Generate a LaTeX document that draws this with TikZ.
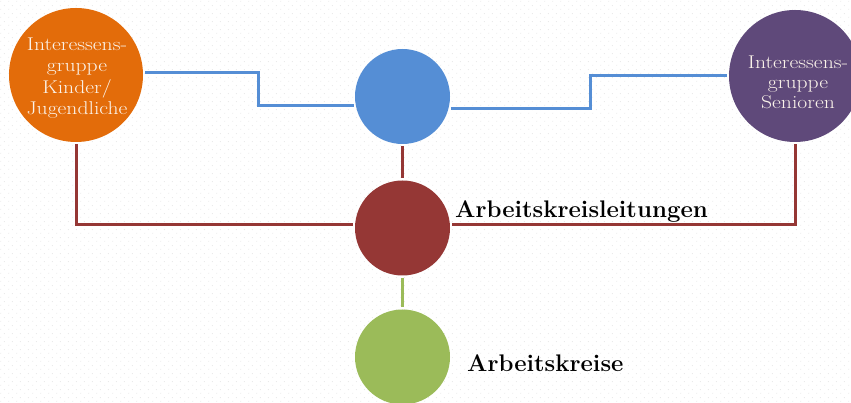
\documentclass[tikz,border=0pt]{standalone}
\usetikzlibrary{patterns.meta}
\definecolor{corange}{HTML}{E36C0A}
\definecolor{cblue}{HTML}{558ED5}
\definecolor{cpurple}{HTML}{5F497A}
\definecolor{cred}{HTML}{953735}
\definecolor{cgreen}{HTML}{9BBB59}
\definecolor{ctext}{HTML}{FBF3EA}
\tikzdeclarepattern{
  name=bgdots,
  type=uncolored,
  bounding box={(0pt,0pt) and (8pt,8pt)},
  tile size={(8pt,8pt)},
  code={\fill (2pt,2pt) circle (0.5pt); \fill (6pt,6pt) circle (0.5pt);}
}
\tikzset{
  bubble/.style={circle, inner sep=0pt, draw=none},
  bubbletext/.style={text=ctext, align=center, xscale=1.17, inner sep=0pt, font=\fontsize{18.5}{21.5}\selectfont},
  conn/.style={line width=3pt, shorten <=2pt, shorten >=2pt},
  lbl/.style={anchor=base west, inner sep=0pt, font=\fontsize{24}{28}\selectfont\bfseries}
}
\begin{document}
\begin{tikzpicture}[x=1pt,y=1pt]
\useasboundingbox (0,0) rectangle (851,403);
\clip (0,0) rectangle (851,403);
\fill[white] (0,0) rectangle (851,403);
\fill[pattern={bgdots}, pattern color=black!14] (0,0) rectangle (851,403);

\node[bubble, fill=corange, minimum size=134pt] (orange) at (76,328) {};
\node[bubbletext] (otext) at (77,325) {Interessens-\\gruppe\\Kinder/\\Jugendliche};
\node[bubble, fill=cblue, minimum size=95pt] (blue) at (402.5,306.5) {};
\node[bubble, fill=cpurple, minimum size=132pt] (purple) at (795,327) {};
\node[bubbletext, font=\fontsize{18.5}{20}\selectfont] (ptext) at (798,321) {Interessens-\\gruppe\\Senioren};
\node[bubble, fill=cred, minimum size=95pt] (red) at (402.5,175) {};
\node[bubble, fill=cgreen, minimum size=95pt] (green) at (402.5,46) {};

\coordinate (bkl) at (258,0);
\coordinate (bkr) at (590,0);

\draw[conn, cblue] (orange.2) -- (orange.2 -| bkl) |- (blue.191);
\draw[conn, cblue] (blue.-14) -- (blue.-14 -| bkr) |- (purple.west);
\draw[conn, cred] (blue.south) -- (red.north);
\draw[conn, cred] (orange.south) |- (red.176);
\draw[conn, cred] (red.4) -| (purple.south);
\draw[conn, cgreen] (red.south) -- (green.north);

\node[lbl] (l1) at (455,185) {Arbeitskreisleitungen};
\node[lbl] (l2) at (467,31) {Arbeitskreise};
\end{tikzpicture}
\end{document}
